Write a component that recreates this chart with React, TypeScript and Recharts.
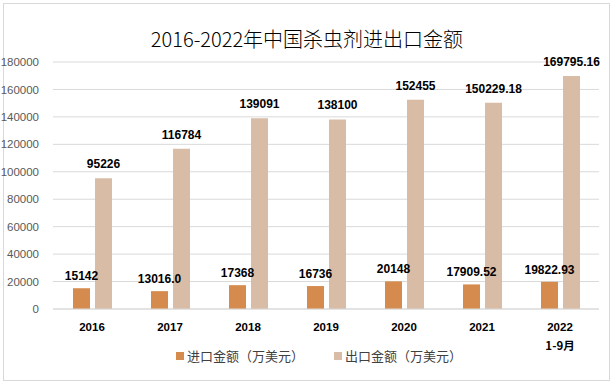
import { BarChart, Bar, XAxis, YAxis, CartesianGrid, LabelList } from "recharts";

const years = ["2016", "2017", "2018", "2019", "2020", "2021", "2022"];
const subLabels = ["", "", "", "", "", "", "1-9月"];
const importValues = [15142, 13016.0, 17368, 16736, 20148, 17909.52, 19822.93];
const importLabels = ["15142", "13016.0", "17368", "16736", "20148", "17909.52", "19822.93"];
const exportValues = [95226, 116784, 139091, 138100, 152455, 150229.18, 169795.16];
const exportLabels = ["95226", "116784", "139091", "138100", "152455", "150229.18", "169795.16"];
const yTicks = [0, 20000, 40000, 60000, 80000, 100000, 120000, 140000, 160000, 180000];

const IMPORT_COLOR = "#D68B4E";
const EXPORT_COLOR = "#D9BCA6";
const FONT = "'Liberation Sans', Arial, sans-serif";
const CJK = "'Noto Sans CJK SC', sans-serif";

const data = years.map((y, i) => ({
  year: y,
  sub: subLabels[i],
  imp: importValues[i],
  exp: exportValues[i],
  impLabel: importLabels[i],
  expLabel: exportLabels[i],
}));

function YearTick({ x, y, payload, index }: any) {
  const sub = subLabels[index];
  return (
    <g transform={`translate(${x},${y})`}>
      <text x={0} y={0} dy={14} textAnchor="middle" fontSize={11.5} fontWeight="bold" fill="#000" fontFamily={FONT}>
        {payload.value}
      </text>
      {sub ? (
        <text x={0} y={0} dy={33} textAnchor="middle" fontSize={11.5} fontWeight="bold" fill="#000" fontFamily={CJK}>
          {sub}
        </text>
      ) : null}
    </g>
  );
}

function LegendBox() {
  const items = [
    { name: "进口金额（万美元）", color: IMPORT_COLOR },
    { name: "出口金额（万美元）", color: EXPORT_COLOR },
  ];
  return (
    <div
      style={{
        position: "absolute",
        top: 346,
        left: 12,
        width: 614,
        display: "flex",
        justifyContent: "center",
        gap: 30,
        fontFamily: CJK,
        fontSize: 13,
        color: "#404040",
      }}
    >
      {items.map((it) => (
        <div key={it.name} style={{ display: "flex", alignItems: "center" }}>
          <span style={{ display: "inline-block", width: 8, height: 8, background: it.color, marginRight: 3 }} />
          {it.name}
        </div>
      ))}
    </div>
  );
}

export default function App() {
  return (
    <div style={{ position: "absolute", left: 0, top: 0, width: 614, height: 385, background: "#fff" }}>
      <div
        style={{
          position: "absolute",
          left: 3,
          top: 3,
          width: 605,
          height: 376,
          border: "1px solid #D9D9D9",
        }}
      />
      <div
        style={{
          position: "absolute",
          top: 24,
          left: 0,
          width: 614,
          textAlign: "center",
          fontFamily: CJK,
          fontSize: 20,
          fontWeight: 300,
          color: "#000",
        }}
      >
        2016-2022年中国杀虫剂进出口金额
      </div>
      <BarChart
        width={614}
        height={385}
        data={data}
        margin={{ top: 62, right: 15, bottom: 46, left: 0 }}
        barGap={5}
        barCategoryGap="25%"
        style={{ position: "absolute", left: 0, top: 0 }}
      >
        <CartesianGrid vertical={false} stroke="#D9D9D9" />
        <XAxis
          dataKey="year"
          axisLine={{ stroke: "#D9D9D9" }}
          tickLine={false}
          tick={<YearTick />}
          interval={0}
          height={30}
        />
        <YAxis
          domain={[0, 180000]}
          ticks={yTicks}
          width={53}
          axisLine={false}
          tickLine={false}
          interval={0}
          tick={{ fontSize: 11.5, fill: "#595959", fontFamily: FONT }}
          tickMargin={8}
        />
        <Bar dataKey="imp" fill={IMPORT_COLOR} barSize={17} isAnimationActive={false}>
          <LabelList dataKey="impLabel" position="top" offset={8} fontSize={12} fontWeight="bold" fill="#000" fontFamily={FONT} />
        </Bar>
        <Bar dataKey="exp" fill={EXPORT_COLOR} barSize={17} isAnimationActive={false}>
          <LabelList dataKey="expLabel" position="top" offset={10} fontSize={12} fontWeight="bold" fill="#000" fontFamily={FONT} />
        </Bar>
      </BarChart>
      <LegendBox />
    </div>
  );
}
